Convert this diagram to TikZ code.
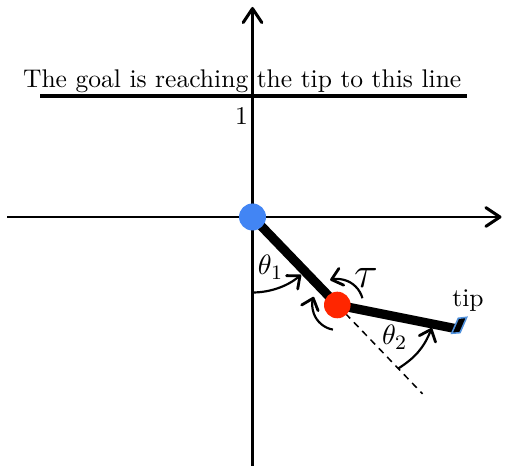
\documentclass[tikz,border=0pt]{standalone}
\usetikzlibrary{arrows.meta,calc}
\definecolor{jblue}{RGB}{66,133,244}
\definecolor{jred}{RGB}{255,38,0}
\definecolor{tipblue}{RGB}{80,145,220}
\begin{document}
\begin{tikzpicture}[x=0.3914pt,y=0.3914pt,
  axis/.style={line width=0.85pt,-{Straight Barb[length=5.5pt,width=7.3pt,line width=1.2pt,round]}},
  link/.style={line width=3.6pt},
  angarrow/.style={line width=0.85pt,-{Straight Barb[length=4pt,width=6.8pt,line width=1.1pt,round]}},
  joint/.style={circle,inner sep=0pt,minimum size=#1},
  lbl/.style={inner sep=0pt,anchor=base}]
\useasboundingbox (0,0) rectangle (509,473);
% coordinates
\coordinate (O) at (252.5,256);
\coordinate (J) at (337.3,168);
\coordinate (T) at (455,144.5);
\coordinate (D) at (422.5,79.2);
\coordinate (yb) at (252.5,7);
\coordinate (yt) at (252.5,466);
\coordinate (xl) at (7,256);
\coordinate (xr) at (501.5,256);
\coordinate (gl) at (40,377);
\coordinate (gr) at (466.5,377);
% axes
\draw[axis] (yb) -- (yt);
\draw[axis] (xl) -- (xr);
% goal line
\draw[line width=1.3pt] (gl) -- (gr);
\node[lbl] (goal) at (242.2,385.5) {The goal is reaching the tip to this line};
\node[inner sep=0pt,anchor=base east] (one) at (248.5,348) {1};
% dashed extension
\draw[dash pattern=on 2.6pt off 2.1pt,line width=0.6pt] (J) -- (D);
% links
\draw[link] (O) -- (J);
\draw[link] (J) -- (T);
% tip marker
\draw[tipblue,fill=black,line width=0.6pt] (451.7,139.7) -- (458.3,154.7) -- (466.7,155.7) -- (460,140.3) -- cycle;
\node[lbl] (tiplbl) at (468,166) {tip};
% joints
\node[joint=27pt*0.3914,fill=jblue] (j1) at (O) {};
\node[joint=26.6pt*0.3914,fill=jred] (j2) at (J) {};
% theta1
\draw[angarrow] ($(O)+(-90:75.5)$) arc[start angle=-90,end angle=-50,radius=75.5];
\node[lbl] (th1) at (270.5,198) {\fontsize{11}{13}\selectfont$\theta_1$};
% tau
\draw[angarrow] ($(J)+(15:26)$) arc[start angle=15,end angle=106,radius=26];
\draw[angarrow] ($(J)+(-100:25)$) arc[start angle=-100,end angle=-199,radius=25];
\node[lbl] (tau) at (366,185) {\LARGE$\tau$};
% theta2
\coordinate (t2s) at ($(J)+(-46.3:88)$);
\coordinate (t2e) at ($(J)+(-13.7:97.2)$);
\draw[angarrow] (t2s) to[bend right=18] (t2e);
\node[lbl] (th2) at (394.7,128) {\fontsize{11}{13}\selectfont$\theta_2$};
\end{tikzpicture}
\end{document}
